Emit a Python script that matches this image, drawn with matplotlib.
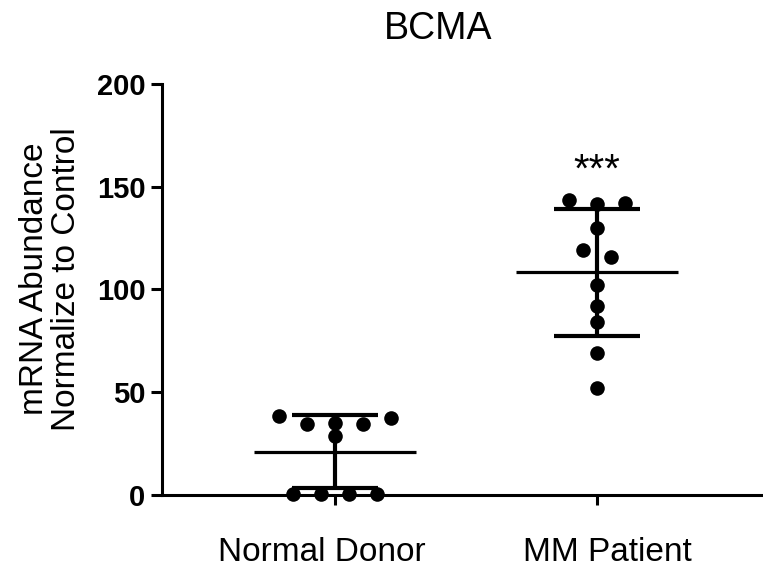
#!/usr/bin/env python3
"""
BCMA mRNA abundance: normal donors vs MM patients (scatter with mean +/- SD)
"""

import numpy as np
import matplotlib
matplotlib.use("Agg")
import matplotlib.pyplot as plt

plt.rcParams['font.family'] = ['Liberation Sans', 'DejaVu Sans']

# data
groups = ['Normal Donor', 'MM Patient']
normal_donor = [38.5, 34.6, 35.0, 34.6, 37.6, 28.8, 0.6, 0.3, 0.4, 0.6]
mm_patient = [143.4, 141.5, 142.0, 129.8, 119.0, 116.0, 102.0, 92.2, 84.0, 69.3, 52.2]
y_ticks = [0, 50, 100, 150, 200]
significance = '***'


def swarm_offsets(values, row_height=5.0, spacing=0.107):
    """Group points into horizontal rows and spread each row symmetrically"""
    values = np.asarray(values, dtype=float)
    order = np.argsort(-values, kind='stable')
    rows = []
    for idx in order:
        if rows and values[rows[-1][0]] - values[idx] <= row_height:
            rows[-1].append(idx)
        else:
            rows.append([idx])
    offsets = np.zeros(len(values))
    for row in rows:
        row = sorted(row)  # slot follows data order
        n = len(row)
        for i, idx in enumerate(row):
            offsets[idx] = (i - (n - 1) / 2) * spacing
    return offsets


def main():
    fig = plt.figure(figsize=(7.63, 5.67), dpi=100)
    ax = fig.add_axes([0.2123, 0.127, 1.0 - 0.2123, 0.8519 - 0.127])

    for pos, vals in enumerate([normal_donor, mm_patient]):
        vals = np.asarray(vals)
        mean = vals.mean()
        sd = vals.std(ddof=1)

        # mean line
        ax.plot([pos - 0.31, pos + 0.31], [mean, mean], color='black',
                lw=2.3, solid_capstyle='butt', zorder=2)
        # SD bar with caps
        ax.plot([pos, pos], [mean - sd, mean + sd], color='black',
                lw=3.0, solid_capstyle='butt', zorder=2)
        for end in (mean - sd, mean + sd):
            ax.plot([pos - 0.165, pos + 0.165], [end, end], color='black',
                    lw=3.0, solid_capstyle='butt', zorder=2)

        xs = pos + swarm_offsets(vals)
        ax.plot(xs, vals, 'o', color='black', markersize=10.5,
                markeredgewidth=0, zorder=3, clip_on=False)

    ax.text(1, 158, significance, ha='center', va='center', fontsize=29)

    ax.set_xlim(-0.66, 1.634)
    ax.set_ylim(0, 200)
    ax.set_yticks(y_ticks)
    ax.set_xticks(range(len(groups)))
    ax.set_xticklabels([])
    for tick in ax.get_yticklabels():
        tick.set_fontsize(21)
        tick.set_fontweight('bold')

    # group labels, slightly shifted like the GraphPad original
    for pos, (name, dx) in enumerate(zip(groups, [-13, 10])):
        ax.annotate(name, xy=(pos, 0), xycoords=('data', 'axes fraction'),
                    xytext=(dx, -42), textcoords='offset pixels',
                    ha='center', va='top', fontsize=24, annotation_clip=False)

    ax.spines['top'].set_visible(False)
    ax.spines['right'].set_visible(False)
    ax.spines['left'].set_linewidth(2.2)
    ax.spines['bottom'].set_linewidth(2.2)
    ax.tick_params(axis='y', length=8, width=2.2, pad=4)
    ax.tick_params(axis='x', length=7, width=2.2)

    fig.text(0.066, 0.508, 'mRNA Abundance\nNormalize to Control',
             rotation=90, ha='center', va='center', fontsize=24,
             linespacing=1.05)
    fig.text(0.574, 0.948, 'BCMA', ha='center', va='center', fontsize=27)

    fig.savefig('out.png', dpi=100)
    plt.close(fig)


if __name__ == "__main__":
    main()
